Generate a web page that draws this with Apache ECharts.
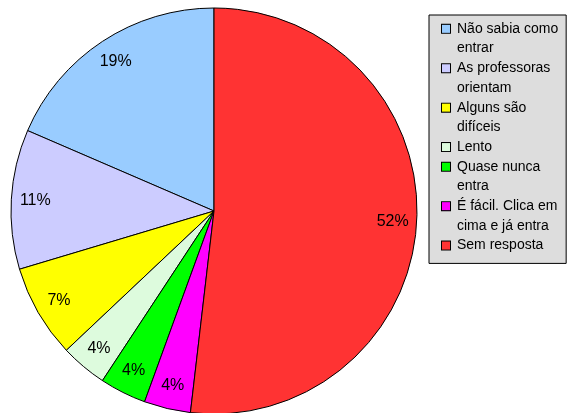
<!DOCTYPE html>
<html>
<head>
<meta charset="utf-8">
<script src="https://cdn.jsdelivr.net/npm/echarts@6/dist/echarts.min.js"></script>
<style>
html, body { margin: 0; padding: 0; background: #fff; }
#chart { width: 569px; height: 413px; }
</style>
</head>
<body>
<div id="chart"></div>
<script>
// respostas, na ordem da legenda (desenhadas no sentido anti-horário a partir do topo)
const categories = ['Não sabia como\nentrar', 'As professoras\norientam', 'Alguns são\ndifíceis', 'Lento', 'Quase nunca\nentra', 'É fácil. Clica em\ncima e já entra', 'Sem resposta']
const counts = [5, 3, 2, 1, 1, 1, 14]
const colors = ['#99ccff', '#ccccff', '#ffff00', '#ddfbdd', '#00ff00', '#ff00ff', '#ff3333']

const FONT = '"Liberation Sans", Arial, sans-serif'
const LINE_H = 19.7

const pieData = categories.map((name, i) => ({ name, value: counts[i], itemStyle: { color: colors[i] } }))

// swatches for the legend, drawn as rich text so the box sits on the first line
const rich = {
  e: { width: 8, lineHeight: LINE_H },
  g: { width: 7, lineHeight: LINE_H },
  t: { fontSize: 14, fontFamily: FONT, color: '#000', lineHeight: LINE_H }
}
colors.forEach((c, i) => {
  rich['s' + i] = { width: 8, height: 8, backgroundColor: c, borderColor: '#000', borderWidth: 1, lineHeight: LINE_H }
})

const chart = echarts.init(document.getElementById('chart'))

const option = {
  animation: false,
  legend: {
    orient: 'vertical',
    left: 429,
    top: 15,
    padding: [4, 8, 8, 7],
    itemGap: 0,
    itemWidth: 0,
    itemHeight: 0,
    itemStyle: { opacity: 0 },
    textGap: 0,
    selectedMode: false,
    backgroundColor: '#dddddd',
    borderColor: '#000',
    borderWidth: 1,
    borderRadius: 0,
    data: categories,
    textStyle: { fontSize: 14, fontFamily: FONT, color: '#000', lineHeight: LINE_H, rich },
    formatter: (name) => {
      const i = categories.indexOf(name)
      return name.split('\n').map((line, k) => (k === 0 ? `{s${i}|}` : '{e|}') + `{g|}{t|${line}}`).join('\n')
    }
  },
  series: [
    {
      type: 'pie',
      center: [214, 211],
      radius: 203,
      startAngle: 90,
      clockwise: false,
      silent: true,
      itemStyle: { borderColor: '#000', borderWidth: 1 },
      label: { show: false },
      labelLine: { show: false },
      emphasis: { disabled: true },
      data: pieData
    },
    {
      // invisible ring only used to place the percentage labels
      type: 'pie',
      center: [214, 211],
      radius: [150, 202],
      startAngle: 90,
      clockwise: false,
      silent: true,
      itemStyle: { color: 'transparent', borderWidth: 0 },
      label: {
        show: true,
        position: 'inside',
        fontSize: 16,
        fontFamily: FONT,
        color: '#000',
        formatter: (p) => Math.round(p.percent) + '%'
      },
      labelLine: { show: false },
      emphasis: { disabled: true },
      data: categories.map((name, i) => ({ name, value: counts[i] }))
    }
  ]
}

chart.setOption(option)
</script>
</body>
</html>
